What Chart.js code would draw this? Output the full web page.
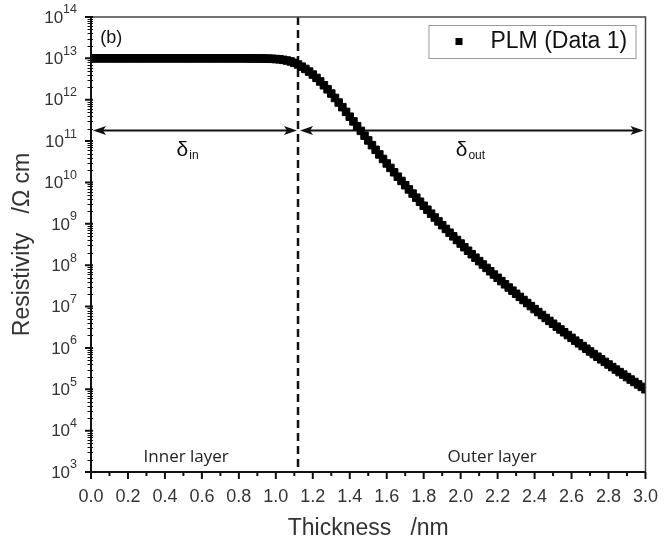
<!DOCTYPE html>
<html>
<head>
<meta charset="utf-8">
<title>Resistivity profile - PLM</title>
<script src="https://cdn.jsdelivr.net/npm/chart.js@4.4.1/dist/chart.umd.min.js"></script>
<style>
  html, body { margin: 0; padding: 0; background: #fff; }
  #wrap { width: 672px; height: 547px; }
</style>
</head>
<body>
<div id="wrap"><canvas id="chart" width="672" height="547"></canvas></div>
<script>
// ----------------------------------------------------------
// DATA
// thickness in nm, resistivity as log10(Ohm cm)
// ----------------------------------------------------------
const thickness = [
  0.00, 0.02, 0.04, 0.06, 0.08, 0.10, 0.12, 0.14, 0.16, 0.18,
  0.20, 0.22, 0.24, 0.26, 0.28, 0.30, 0.32, 0.34, 0.36, 0.38,
  0.40, 0.42, 0.44, 0.46, 0.48, 0.50, 0.52, 0.54, 0.56, 0.58,
  0.60, 0.62, 0.64, 0.66, 0.68, 0.70, 0.72, 0.74, 0.76, 0.78,
  0.80, 0.82, 0.84, 0.86, 0.88, 0.90, 0.92, 0.94, 0.96, 0.98,
  1.00, 1.02, 1.04, 1.06, 1.08, 1.10, 1.12, 1.14, 1.16, 1.18,
  1.20, 1.22, 1.24, 1.26, 1.28, 1.30, 1.32, 1.34, 1.36, 1.38,
  1.40, 1.42, 1.44, 1.46, 1.48, 1.50, 1.52, 1.54, 1.56, 1.58,
  1.60, 1.62, 1.64, 1.66, 1.68, 1.70, 1.72, 1.74, 1.76, 1.78,
  1.80, 1.82, 1.84, 1.86, 1.88, 1.90, 1.92, 1.94, 1.96, 1.98,
  2.00, 2.02, 2.04, 2.06, 2.08, 2.10, 2.12, 2.14, 2.16, 2.18,
  2.20, 2.22, 2.24, 2.26, 2.28, 2.30, 2.32, 2.34, 2.36, 2.38,
  2.40, 2.42, 2.44, 2.46, 2.48, 2.50, 2.52, 2.54, 2.56, 2.58,
  2.60, 2.62, 2.64, 2.66, 2.68, 2.70, 2.72, 2.74, 2.76, 2.78,
  2.80, 2.82, 2.84, 2.86, 2.88, 2.90, 2.92, 2.94, 2.96, 2.98,
  3.00
];

const logResistivity = [
  13.00, 13.00, 13.00, 13.00, 13.00, 13.00, 13.00, 13.00, 13.00, 13.00,
  13.00, 13.00, 13.00, 13.00, 13.00, 13.00, 13.00, 13.00, 13.00, 13.00,
  13.00, 13.00, 13.00, 13.00, 13.00, 13.00, 13.00, 13.00, 13.00, 13.00,
  13.00, 13.00, 13.00, 13.00, 13.00, 13.00, 13.00, 13.00, 13.00, 13.00,
  13.00, 13.00, 13.00, 12.999, 12.999, 12.998, 12.997, 12.995, 12.993, 12.989,
  12.984, 12.976, 12.964, 12.948, 12.925, 12.893, 12.852, 12.800, 12.745, 12.680,
  12.608, 12.528, 12.442, 12.350, 12.252, 12.150, 12.043, 11.932, 11.820, 11.706,
  11.590, 11.476, 11.360, 11.247, 11.131, 11.016, 10.902, 10.789, 10.678, 10.568,
  10.459, 10.352, 10.246, 10.140, 10.036, 9.933, 9.832, 9.731, 9.632, 9.534,
  9.437, 9.341, 9.246, 9.152, 9.059, 8.967, 8.876, 8.786, 8.697, 8.609,
  8.522, 8.435, 8.350, 8.265, 8.181, 8.098, 8.016, 7.934, 7.853, 7.773,
  7.694, 7.615, 7.537, 7.460, 7.384, 7.308, 7.233, 7.158, 7.084, 7.011,
  6.938, 6.866, 6.795, 6.724, 6.653, 6.584, 6.514, 6.446, 6.378, 6.310,
  6.243, 6.176, 6.110, 6.045, 5.980, 5.915, 5.851, 5.787, 5.724, 5.662,
  5.599, 5.537, 5.476, 5.415, 5.355, 5.294, 5.235, 5.176, 5.117, 5.058,
  5.000
];

const xTicks   = [0.0, 0.2, 0.4, 0.6, 0.8, 1.0, 1.2, 1.4, 1.6, 1.8, 2.0, 2.2, 2.4, 2.6, 2.8, 3.0];
const yDecades = [3, 4, 5, 6, 7, 8, 9, 10, 11, 12, 13, 14];

const seriesName = 'PLM (Data 1)';
const boundary   = 1.12;     // inner / outer layer limit (nm)
const arrowLevel = 1.9e11;   // height of the delta arrows

const FONT = '"Liberation Sans", Arial, sans-serif';


// ----------------------------------------------------------
// helpers
// ----------------------------------------------------------
function arrowHead(ctx, tipX, y, dir) {
  ctx.beginPath();
  ctx.moveTo(tipX, y);
  ctx.lineTo(tipX - dir * 13, y - 4.5);
  ctx.lineTo(tipX - dir * 10, y);
  ctx.lineTo(tipX - dir * 13, y + 4.5);
  ctx.closePath();
  ctx.fill();
}

function textWithSub(ctx, main, sub, cx, cy, size, subSize) {
  ctx.font = size + 'px ' + FONT;
  const w1 = ctx.measureText(main).width;
  ctx.font = subSize + 'px ' + FONT;
  const w2 = ctx.measureText(sub).width;
  const x0 = cx - (w1 + w2) / 2;
  ctx.textAlign = 'left';
  ctx.textBaseline = 'middle';
  ctx.font = size + 'px ' + FONT;
  ctx.fillText(main, x0, cy);
  ctx.font = subSize + 'px ' + FONT;
  ctx.fillText(sub, x0 + w1 + 1, cy + 5);
}


// ----------------------------------------------------------
// plugin: frame, ticks, labels, annotations, legend
// ----------------------------------------------------------
const figureDecor = {
  id: 'figureDecor',

  beforeDatasetsDraw(chart) {
    const { ctx, chartArea: a, scales: { x, y } } = chart;
    const bx = x.getPixelForValue(boundary);
    const ay = Math.round(y.getPixelForValue(arrowLevel)) + 0.5;

    ctx.save();
    // dashed boundary
    ctx.strokeStyle = '#111';
    ctx.lineWidth = 2.5;
    ctx.setLineDash([8, 5]);
    ctx.beginPath();
    ctx.moveTo(bx, a.top);
    ctx.lineTo(bx, a.bottom);
    ctx.stroke();
    ctx.setLineDash([]);

    // delta arrows
    ctx.lineWidth = 1.8;
    ctx.fillStyle = '#111';
    const x0 = x.getPixelForValue(0) + 2;
    const x1 = x.getPixelForValue(3) - 2;
    ctx.beginPath();
    ctx.moveTo(x0 + 6, ay); ctx.lineTo(bx - 7, ay);
    ctx.moveTo(bx + 7, ay); ctx.lineTo(x1 - 6, ay);
    ctx.stroke();
    arrowHead(ctx, x0, ay, -1);
    arrowHead(ctx, bx - 1, ay, 1);
    arrowHead(ctx, bx + 2, ay, -1);
    arrowHead(ctx, x1, ay, 1);
    ctx.restore();
  },

  afterDatasetsDraw(chart) {
    const { ctx, chartArea: a, scales: { x, y } } = chart;
    ctx.save();

    // frame
    ctx.strokeStyle = '#444';
    ctx.lineWidth = 1.5;
    ctx.beginPath();
    ctx.moveTo(a.left, a.top); ctx.lineTo(a.right, a.top); ctx.lineTo(a.right, a.bottom);
    ctx.stroke();
    ctx.strokeStyle = '#111';
    ctx.lineWidth = 2;
    ctx.beginPath();
    ctx.moveTo(a.left, a.top); ctx.lineTo(a.left, a.bottom); ctx.lineTo(a.right, a.bottom);
    ctx.stroke();

    // x ticks (major + minor in between)
    ctx.lineWidth = 2;
    ctx.beginPath();
    xTicks.forEach((v, i) => {
      const px = x.getPixelForValue(v);
      ctx.moveTo(px, a.bottom); ctx.lineTo(px, a.bottom + 7);
      if (i < xTicks.length - 1) {
        const pm = x.getPixelForValue((v + xTicks[i + 1]) / 2);
        ctx.moveTo(pm, a.bottom); ctx.lineTo(pm, a.bottom + 4);
      }
    });
    ctx.stroke();

    // y ticks (log, minor 2..9)
    ctx.beginPath();
    yDecades.forEach(n => {
      const py = y.getPixelForValue(Math.pow(10, n));
      ctx.moveTo(a.left - 6, py); ctx.lineTo(a.left + 2, py);
    });
    ctx.stroke();
    ctx.lineWidth = 1;
    ctx.beginPath();
    yDecades.slice(0, -1).forEach(n => {
      for (let k = 2; k <= 9; k++) {
        const py = Math.round(y.getPixelForValue(k * Math.pow(10, n))) + 0.5;
        ctx.moveTo(a.left - 3.5, py); ctx.lineTo(a.left + 2, py);
      }
    });
    ctx.stroke();

    // y tick labels 10^n
    ctx.fillStyle = '#333';
    ctx.textBaseline = 'middle';
    ctx.textAlign = 'right';
    yDecades.forEach(n => {
      const py = y.getPixelForValue(Math.pow(10, n));
      const rightX = a.left - 14;
      ctx.font = '12.5px ' + FONT;
      const sw = ctx.measureText(String(n)).width;
      ctx.fillText(String(n), rightX, py - 7);
      ctx.font = '17px ' + FONT;
      ctx.fillText('10', rightX - sw, py + 1);
    });

    // axis titles
    ctx.fillStyle = '#333';
    ctx.textAlign = 'center';
    ctx.font = '23px ' + FONT;
    ctx.fillText('Thickness   /nm', (a.left + a.right) / 2, 529);
    ctx.save();
    ctx.translate(23, (a.top + a.bottom) / 2);
    ctx.rotate(-Math.PI / 2);
    ctx.fillText('Resistivity   /\u03A9 cm', 0, 0);
    ctx.restore();

    // annotations
    ctx.fillStyle = '#111';
    ctx.textAlign = 'left';
    ctx.font = '18px ' + FONT;
    ctx.fillText('(b)', x.getPixelForValue(0.05), y.getPixelForValue(3.1e13));

    textWithSub(ctx, '\u03B4', 'in', x.getPixelForValue(0.52), y.getPixelForValue(6e10), 21, 12);
    textWithSub(ctx, '\u03B4', 'out', x.getPixelForValue(2.05), y.getPixelForValue(6e10), 21, 12);

    ctx.fillStyle = '#222';
    ctx.textAlign = 'center';
    ctx.font = '17px "Open Sans", Lato, sans-serif';
    ctx.fillText('Inner layer', x.getPixelForValue(0.515), y.getPixelForValue(2.3e3));
    ctx.fillText('Outer layer', x.getPixelForValue(2.17), y.getPixelForValue(2.3e3));

    // legend box
    const lx = a.right - 217, ly = a.top + 8;
    ctx.strokeStyle = '#999';
    ctx.lineWidth = 1;
    ctx.strokeRect(lx + 0.5, ly + 0.5, 207, 33);
    ctx.fillStyle = '#000';
    ctx.fillRect(lx + 27, ly + 13, 7, 7);
    ctx.fillStyle = '#111';
    ctx.textAlign = 'left';
    ctx.font = '23px ' + FONT;
    ctx.fillText(seriesName, lx + 62, ly + 17);

    ctx.restore();
  }
};


// ----------------------------------------------------------
// CHART
// ----------------------------------------------------------
new Chart(document.getElementById('chart'), {
  type: 'scatter',
  data: {
    datasets: [{
      label: seriesName,
      data: thickness.map((t, i) => ({ x: t, y: Math.pow(10, logResistivity[i]) })),
      showLine: false,
      pointStyle: 'rect',
      pointRadius: 5.3,
      pointBackgroundColor: '#000',
      pointBorderColor: '#000',
      pointBorderWidth: 1,
      clip: 0
    }]
  },
  options: {
    responsive: false,
    devicePixelRatio: 1,
    animation: false,
    layout: { padding: { top: 17, right: 15, left: 0, bottom: 0 } },
    plugins: {
      legend: { display: false },
      tooltip: { enabled: false }
    },
    scales: {
      x: {
        type: 'linear',
        min: 0,
        max: 3,
        afterBuildTicks: s => { s.ticks = xTicks.map(v => ({ value: v })); },
        afterFit: s => { s.height = 75; },
        grid: { display: false, drawTicks: false },
        border: { display: false },
        ticks: {
          callback: v => v.toFixed(1),
          color: '#333',
          font: { family: FONT, size: 18 },
          padding: 14,
          maxRotation: 0,
          autoSkip: false
        }
      },
      y: {
        type: 'logarithmic',
        min: 1e3,
        max: 1e14,
        afterFit: s => { s.width = 91; },
        grid: { display: false },
        border: { display: false },
        ticks: { display: false }
      }
    }
  },
  plugins: [figureDecor]
});
</script>
</body>
</html>
